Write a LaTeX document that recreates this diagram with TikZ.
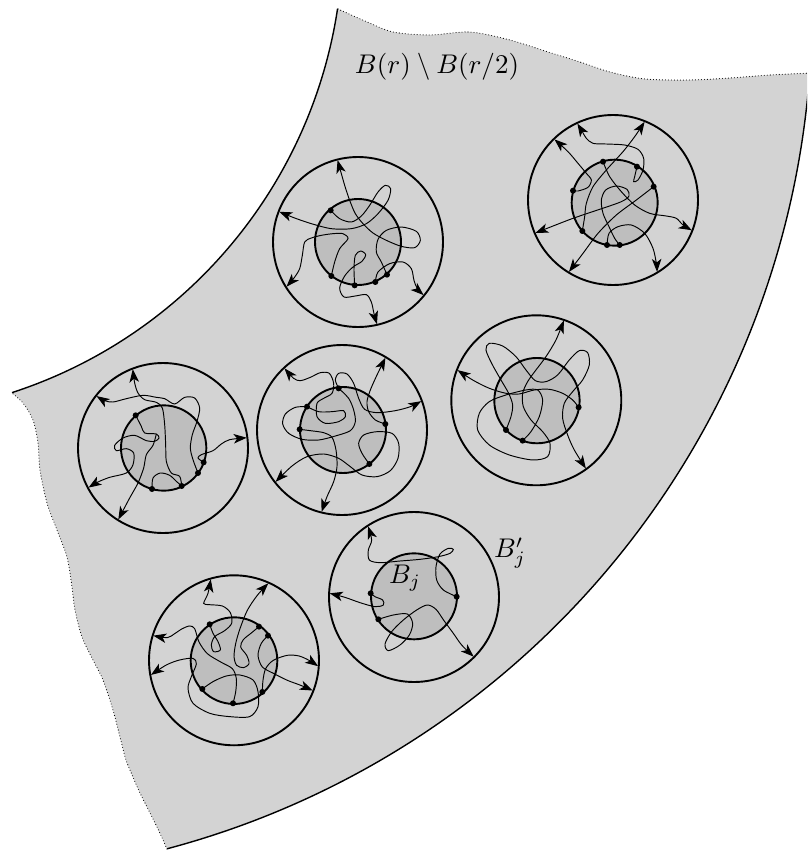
\documentclass[tikz,border=0pt]{standalone}
\usetikzlibrary{arrows.meta}
\definecolor{regiongray}{RGB}{211,211,211}
\definecolor{discgray}{RGB}{190,190,190}
\tikzset{
  ring/.style={line width=1.9pt},
  disc/.style={line width=1.9pt, fill=discgray},
  walk/.style={line width=0.95pt},
  walkarr/.style={line width=0.95pt, -{Stealth[length=13pt,width=9.5pt,inset=3.5pt]}},
  bound/.style={line width=1.4pt},
  dotbound/.style={line width=1.1pt, line cap=round, dash pattern=on 0pt off 3pt},
  lbl/.style={scale=2.7, inner sep=0pt}
}
\begin{document}
\begin{tikzpicture}[x=1pt,y=-1pt]
\useasboundingbox (0,0) rectangle (807,851);
\clip (0,0) rectangle (807,851);
% region B(r)\B(r/2)
\fill[regiongray] (338,9) -- plot[smooth] coordinates {(338,9) (365,21) (393,32) (430,35) (470,32) (510,40) (545,51) (580,62) (610,72) (645,79) (690,80) (730,78) (770,75) (812,73)}
  -- (808.7,85.6) arc[start angle=5,end angle=75.1,radius=868]
  -- plot[smooth] coordinates {(167,849) (157,827) (140,793) (133,777) (126,760) (120,737) (113,710) (103,680) (93,660) (82,637) (75,610) (72,587) (67,557) (57,530) (47,503) (40,470) (38,443) (33,420) (23,403) (12,393)}
  arc[start angle=72,end angle=8.6,radius=479] -- cycle;
\draw[bound] (808.7,85.6) arc[start angle=5,end angle=75.1,radius=868];
\draw[bound] (12,392.6) arc[start angle=72,end angle=8.6,radius=479];
\draw[dotbound] plot[smooth] coordinates {(338,9) (365,21) (393,32) (430,35) (470,32) (510,40) (545,51) (580,62) (610,72) (645,79) (690,80) (730,78) (770,75) (812,73)};
\draw[dotbound] plot[smooth] coordinates {(167,849) (157,827) (140,793) (133,777) (126,760) (120,737) (113,710) (103,680) (93,660) (82,637) (75,610) (72,587) (67,557) (57,530) (47,503) (40,470) (38,443) (33,420) (23,403) (12,393)};
\node[lbl] (region) at (437,67) {$B(r)\setminus B(r/2)$};

% ball 1
\begin{scope}[shift={(358,242)},scale=0.3333]
\draw[disc] (0,0) circle[radius=129];
\draw[walkarr] plot[smooth] coordinates {(87,98) (70,60) (55,30) (60,-8) (85,-35) (130,-45) (175,-32) (187,-5) (170,17) (130,13) (85,-5) (45,-27) (15,-55) (-8,-85) (-25,-125) (-40,-170) (-104:253)};
\draw[walkarr] plot[smooth] coordinates {(-82,-95) (-55,-70) (-20,-60) (10,-78) (35,-110) (60,-150) (82,-170) (98,-160) (90,-125) (60,-85) (25,-55) (-20,-40) (-80,-40) (-140,-55) (-190,-72) (-159:253)};
\draw[walkarr] plot[smooth] coordinates {(-80,102) (-70,60) (-55,20) (-30,-10) (-45,-25) (-75,-25) (-110,-20) (-140,-12) (-160,0) (-167,40) (-175,80) (-192,108) (148:253)};
\draw[walkarr] plot[smooth] coordinates {(-10,130) (-12,80) (-8,40) (8,27) (23,38) (12,58) (-15,75) (-40,102) (-55,138) (-42,165) (-8,162) (25,158) (40,180) (48,215) (77:253)};
\draw[walkarr] plot[smooth] coordinates {(52,120) (60,90) (95,65) (135,60) (160,80) (168,115) (178,140) (39:253)};
\draw[ring] (0,0) circle[radius=255];
\foreach \p in {(87,98),(-82,-95),(-80,102),(-10,130),(52,120)} \fill \p circle[radius=9];
\end{scope}

% ball 2
\begin{scope}[shift={(613,200)},scale=0.3333]
\draw[disc] (5,8) circle[radius=129];
\draw[walkarr] plot[smooth] coordinates {(-120,-28) (-105,-27) (-75,-38) (-65,-60) (-80,-80) (-105,-110) (-135,-145) (-134:253)};
\draw[walkarr] plot[smooth] coordinates {(72,-100) (65,-70) (62,-55) (75,-60) (90,-90) (92,-125) (75,-152) (35,-165) (-20,-168) (-60,-170) (-80,-185) (-92,-205) (-115:253)};
\draw[walkarr] plot[smooth] coordinates {(-92,93) (-85,50) (-80,10) (-60,-40) (-20,-90) (30,-145) (65,-190) (-68:253)};
\draw[walkarr] plot[smooth] coordinates {(122,-40) (70,0) (10,45) (-45,100) (-90,160) (121.5:253)};
\draw[walkarr] plot[smooth] coordinates {(20,135) (5,115) (-12,80) (-30,40) (-35,0) (-22,-30) (10,-42) (42,-32) (48,-12) (25,5) (-40,28) (-120,55) (-190,82) (157:253)};
\draw[walkarr] plot[smooth] coordinates {(-30,-115) (-10,-70) (25,-25) (65,15) (110,40) (160,48) (190,55) (210,75) (21:253)};
\draw[walkarr] plot[smooth] coordinates {(-18,135) (-12,100) (15,80) (55,75) (95,100) (120,145) (130,190) (58.5:253)};
\draw[ring] (0,0) circle[radius=255];
\foreach \p in {(-30,-115),(72,-100),(122,-40),(-120,-28),(-92,93),(-18,135),(20,135)} \fill \p circle[radius=9];
\end{scope}

% ball 3
\begin{scope}[shift={(163,448)},scale=0.3333]
\draw[disc] (2,0) circle[radius=128];
\draw[walkarr] plot[smooth] coordinates {(56,114) (50,85) (25,75) (10,40) (8,-10) (5,-70) (-2,-120) (-20,-137) (-55,-145) (-75,-165) (-85,-195) (-111:253)};
\draw[walkarr] plot[smooth] coordinates {(105,75) (90,35) (82,0) (88,-40) (102,-80) (110,-120) (95,-150) (65,-152) (35,-132) (5,-148) (-20,-152) (-60,-158) (-110,-148) (-150,-138) (-175,-142) (-142:253)};
\draw[walkarr] plot[smooth] coordinates {(122,43) (105,30) (115,20) (150,8) (175,-12) (200,-25) (-7:253)};
\draw[walkarr] plot[smooth] coordinates {(-82,-98) (-65,-65) (-55,-45) (-20,-42) (-12,-30) (-25,-20) (-50,-22) (-85,-38) (-120,-30) (-145,-8) (-140,8) (-110,2) (-88,15) (-90,50) (-110,75) (-160,88) (-195,102) (152:253)};
\draw[walk] plot[smooth] coordinates {(-33,123) (-30,90) (-8,75) (20,82) (40,100) (56,114)};
\draw[walkarr] plot[smooth] coordinates {(-20,-42) (-30,-8) (-50,20) (-58,60) (-75,105) (-100,150) (122:253)};
\draw[ring] (0,0) circle[radius=255];
\foreach \p in {(-82,-98),(-33,123),(56,114),(105,75),(122,43)} \fill \p circle[radius=9];
\end{scope}

% ball 4
\begin{scope}[shift={(342,430)},scale=0.3333]
\draw[disc] (3,0) circle[radius=129];
\draw[walkarr] plot[smooth] coordinates {(-105,-70) (-70,-55) (-30,-55) (5,-58) (10,-40) (-10,-25) (-50,-20) (-75,-40) (-75,-80) (-55,-95) (-30,-110) (-25,-140) (-38,-170) (-65,-172) (-95,-158) (-125,-148) (-145,-155) (-133:253)};
\draw[walkarr] plot[smooth] coordinates {(130,-18) (100,-30) (80,-55) (75,-85) (85,-120) (105,-165) (-59:253)};
\draw[walkarr] plot[smooth] coordinates {(-10,-125) (-20,-150) (-10,-170) (15,-168) (35,-140) (50,-95) (68,-62) (105,-52) (160,-58) (205,-70) (-20:253)};
\draw[walk] plot[smooth] coordinates {(-105,-70) (-140,-68) (-170,-48) (-178,-18) (-160,10) (-120,28) (-70,30) (-20,18) (25,2) (40,-25) (35,-60) (20,-95) (-10,-125)};
\draw[walkarr] plot[smooth] coordinates {(82,102) (60,70) (50,40) (65,15) (105,5) (150,10) (170,40) (168,85) (145,122) (105,140) (60,135) (25,110) (-10,85) (-55,72) (-105,80) (-150,108) (142:253)};
\draw[walkarr] plot[smooth] coordinates {(-127,-2) (-95,2) (-55,8) (-30,22) (-18,60) (-15,110) (-25,155) (-45,200) (104:253)};
\draw[ring] (0,0) circle[radius=255];
\foreach \p in {(-10,-125),(-105,-70),(-127,-2),(130,-18),(82,102)} \fill \p circle[radius=9];
\end{scope}

% ball 5
\begin{scope}[shift={(536.3,400.3)},scale=0.3333]
\draw[disc] (2,1) circle[radius=128];
\draw[walkarr] plot[smooth] coordinates {(-91,89) (-76,49) (-71,14) (-83,-21) (-106,-61) (-133,-109) (-151,-151) (-141,-171) (-101,-163) (-61,-131) (-31,-91) (-3,-59) (29,-56) (64,-76) (99,-121) (129,-149) (154,-143) (159,-106) (139,-61) (109,-26) (84,9) (79,54) (94,104) (114,149) (54:253)};
\draw[walkarr] plot[smooth] coordinates {(127,21) (109,-1) (79,-21) (39,-33) (-6,-31) (-51,-19) (-91,-21) (-141,-36) (-191,-61) (-159:253)};
\draw[walkarr] plot[smooth] coordinates {(-41,121) (-16,94) (9,49) (19,-1) (4,-31) (-31,-31) (-91,-16) (-141,4) (-171,39) (-176,89) (-141,134) (-81,164) (-11,179) (34,169) (41,129) (19,94) (-16,59) (-39,19) (-41,-21) (-26,-56) (-1,-91) (29,-131) (59,-181) (-71:253)};
\draw[ring] (0,0) circle[radius=255];
\foreach \p in {(-91,89),(-41,121),(127,21)} \fill \p circle[radius=9];
\end{scope}

% ball 6 (B_j)
\begin{scope}[shift={(414,597)},scale=0.3333]
\draw[disc] (0,-2) circle[radius=129];
\draw[walkarr] plot[smooth] coordinates {(128,-1) (88,-21) (68,-51) (66,-91) (78,-129) (103,-146) (118,-143) (108,-131) (73,-121) (18,-113) (-42,-108) (-102,-103) (-134,-111) (-137,-141) (-127,-171) (-123:253)};
\draw[walkarr] plot[smooth] coordinates {(-130,-11) (-117,-1) (-94,9) (-92,24) (-117,29) (-162,17) (-207,1) (-177.5:253)};
\draw[walkarr] plot[smooth] coordinates {(-107,67) (-62,54) (-20,51) (-4,79) (-14,114) (-42,144) (-77,161) (-87,141) (-67,104) (-32,69) (8,39) (40,24) (66,37) (90,71) (118,109) (143,144) (45:253)};
\draw[ring] (0,0) circle[radius=255];
\foreach \p in {(128,-1),(-130,-11),(-107,67)} \fill \p circle[radius=9];
\end{scope}
\node[lbl] (bj) at (405,578) {$B_j$};
\node[lbl] (bjp) at (510,553) {$B'_j$};

% ball 7
\begin{scope}[shift={(234,660.3)},scale=0.3333]
\draw[disc] (0,1) circle[radius=130];
\draw[walkarr] plot[smooth] coordinates {(-73,-108) (-63,-81) (-48,-56) (-41,-31) (-61,-26) (-68,-46) (-58,-71) (-28,-89) (-7,-111) (-11,-143) (-35,-163) (-75,-167) (-91,-171) (-78,-201) (-106:253)};
\draw[walkarr] plot[smooth] coordinates {(75,-101) (52,-82) (28,-62) (20,-40) (38,-15) (45,10) (28,22) (8,15) (0,-10) (5,-50) (18,-95) (40,-150) (70,-195) (-66:253)};
\draw[walkarr] plot[smooth] coordinates {(-3,129) (5,95) (7,55) (-5,25) (-40,5) (-80,-20) (-105,-55) (-118,-95) (-133,-103) (-155,-95) (-178,-80) (-200,-68) (-163:253)};
\draw[walkarr] plot[smooth] coordinates {(-95,86) (-63,64) (-23,47) (17,44) (57,59) (72,94) (72,139) (47,169) (-13,169) (-73,159) (-123,129) (-138,84) (-128,49) (-113,11) (-123,-6) (-163,-1) (-203,14) (170:253)};
\draw[walkarr] plot[smooth] coordinates {(85,95) (87,60) (95,25) (118,0) (160,-15) (195,-13) (225,0) (4:253)};
\draw[walkarr] plot[smooth] coordinates {(102,-74) (82,-51) (72,-15) (85,20) (120,40) (160,60) (200,75) (21:253)};
\draw[ring] (0,0) circle[radius=255];
\foreach \p in {(-73,-108),(75,-101),(102,-74),(-95,86),(-3,129),(85,95)} \fill \p circle[radius=9];
\end{scope}
\end{tikzpicture}
\end{document}
